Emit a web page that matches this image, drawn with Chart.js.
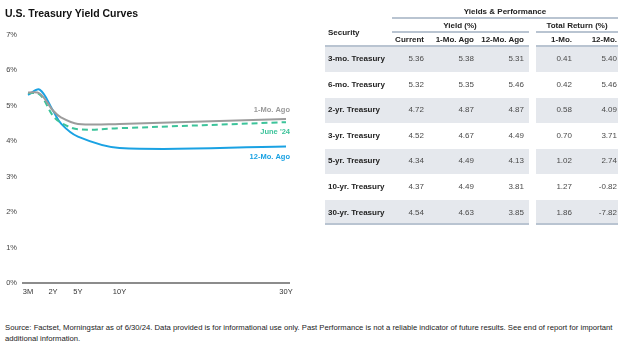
<!DOCTYPE html>
<html>
<head>
<meta charset="utf-8">
<script src="https://cdn.jsdelivr.net/npm/chart.js@4"></script>
<style>
  html, body { margin: 0; padding: 0; background: #fff; }
  body { width: 624px; height: 344px; position: relative; overflow: hidden;
         font-family: "Liberation Sans", Arial, sans-serif; color: #222; }
  #title { position: absolute; left: 5px; top: 7px; font-size: 10.5px; font-weight: bold; color: #111; white-space: nowrap; }
  #chartBox { position: absolute; left: 0; top: 0; width: 310px; height: 300px; }
  .t { position: absolute; white-space: nowrap; font-size: 8px; line-height: 10px; height: 10px; }
  .b { font-weight: bold; color: #222; }
  .v { color: #4a4a4a; }
  .band { position: absolute; background: #e5e8ed; }
  .rule { position: absolute; background: #b9c4d1; }
  #footer { position: absolute; left: 5px; top: 322px; font-size: 7.7px; line-height: 11px; color: #222; white-space: nowrap; }
</style>
</head>
<body>
<div id="chartBox"><canvas id="c" width="310" height="300"></canvas></div>
<div id="title">U.S. Treasury Yield Curves</div>
<div id="table"></div>
<div id="footer">Source: Factset, Morningstar as of 6/30/24. Data provided is for informational use only. Past Performance is not a reliable indicator of future results. See end of report for important<br>additional information.</div>
<script>
// ---------- DATA ----------
const securities = ['3-mo. Treasury', '6-mo. Treasury', '2-yr. Treasury', '3-yr. Treasury', '5-yr. Treasury', '10-yr. Treasury', '30-yr. Treasury'];
const maturitiesYears = [0.25, 0.5, 2, 3, 5, 10, 30];
const yieldCurrent = [5.36, 5.32, 4.72, 4.52, 4.34, 4.37, 4.54];
const yield1MoAgo  = [5.38, 5.35, 4.87, 4.67, 4.49, 4.49, 4.63];
const yield12MoAgo = [5.31, 5.46, 4.87, 4.49, 4.13, 3.81, 3.85];
const return1Mo  = [0.41, 0.42, 0.58, 0.70, 1.02, 1.27, 1.86];
const return12Mo = [5.40, 5.46, 4.09, 3.71, 2.74, -0.82, -7.82];
const xTickYears  = [0.25, 2, 5, 10, 30];
const xTickLabels = ['3M', '2Y', '5Y', '10Y', '30Y'];
const yTicks = [0, 1, 2, 3, 4, 5, 6, 7];
const seriesNames = ['1-Mo. Ago', "June '24", '12-Mo. Ago'];

// ---------- TABLE ----------
const tbl = document.getElementById('table');
function addText(txt, x, y, align, cls) {
  const d = document.createElement('div');
  d.className = 't ' + cls;
  d.textContent = txt;
  d.style.top = (y - 5) + 'px';
  if (align === 'left') d.style.left = x + 'px';
  else if (align === 'right') d.style.right = (624 - x) + 'px';
  else { d.style.left = x + 'px'; d.style.transform = 'translateX(-50%)'; }
  tbl.appendChild(d);
}
function addBox(cls, x, y, w, h) {
  const d = document.createElement('div');
  d.className = cls;
  d.style.left = x + 'px'; d.style.top = y + 'px';
  d.style.width = w + 'px'; d.style.height = h + 'px';
  tbl.appendChild(d);
}
const rowY0 = 59, rowH = 25.6;
const colRight = [424, 474, 524, 572, 617];
const leftBand = [325, 529], rightBand = [536, 618];
securities.forEach((s, i) => {
  if (i % 2 === 0) {
    const yc = rowY0 + rowH * i;
    addBox('band', leftBand[0], yc - 12.5, leftBand[1] - leftBand[0], 25);
    addBox('band', rightBand[0], yc - 12.5, rightBand[1] - rightBand[0], 25);
  }
});
addBox('rule', 392, 17, 226, 1.5);
addBox('rule', 392, 31, 137, 1.5);
addBox('rule', 536, 31, 82, 1.5);
addBox('rule', leftBand[0], 45, leftBand[1] - leftBand[0], 2);
addBox('rule', rightBand[0], 45, rightBand[1] - rightBand[0], 2);
addBox('rule', leftBand[0], 222.5, leftBand[1] - leftBand[0], 2);
addBox('rule', rightBand[0], 222.5, rightBand[1] - rightBand[0], 2);

addText('Yields & Performance', 505, 12, 'center', 'b');
addText('Yield (%)', 460, 25.5, 'center', 'b');
addText('Total Return (%)', 577, 25.5, 'center', 'b');
addText('Security', 328, 33, 'left', 'b');
['Current', '1-Mo. Ago', '12-Mo. Ago', '1-Mo.', '12-Mo.'].forEach((h, j) => addText(h, colRight[j], 39.5, 'right', 'b'));
const cols = [yieldCurrent, yield1MoAgo, yield12MoAgo, return1Mo, return12Mo];
securities.forEach((s, i) => {
  const y = rowY0 + rowH * i;
  addText(s, 328, y, 'left', 'b');
  cols.forEach((arr, j) => addText(arr[i].toFixed(2), colRight[j], y, 'right', 'v'));
});

// ---------- CHART ----------
// maturity axis: short end spread out, linear in years from 2Y onward
const knots = [[0.25, -1.0], [0.5, 0.4], [2, 2]];
function toUnit(v) {
  if (v >= knots[knots.length - 1][0]) return v;
  if (v <= knots[0][0]) return knots[0][1] + (v - knots[0][0]);
  for (let i = 0; i < knots.length - 1; i++) {
    const [a, ua] = knots[i], [b, ub] = knots[i + 1];
    if (v >= a && v <= b) return ua + (v - a) / (b - a) * (ub - ua);
  }
  return v;
}
function fromUnit(u) {
  if (u >= knots[knots.length - 1][1]) return u;
  if (u <= knots[0][1]) return knots[0][0] + (u - knots[0][1]);
  for (let i = 0; i < knots.length - 1; i++) {
    const [a, ua] = knots[i], [b, ub] = knots[i + 1];
    if (u >= ua && u <= ub) return a + (u - ua) / (ub - ua) * (b - a);
  }
  return u;
}
class MaturityScale extends Chart.LinearScale {
  getPixelForValue(v) { return super.getPixelForValue(v == null ? v : toUnit(v)); }
  getValueForPixel(p) { return fromUnit(super.getValueForPixel(p)); }
}
MaturityScale.id = 'maturity';
MaturityScale.defaults = Chart.LinearScale.defaults;
Chart.register(MaturityScale);

const colors = { gray: '#9c9c9c', green: '#3cc39a', blue: '#1aa2e3' };
const pts = arr => maturitiesYears.map((m, i) => ({ x: m, y: arr[i] }));

const endLabels = {
  id: 'endLabels',
  afterDatasetsDraw(chart, args, opts) {
    const ctx = chart.ctx;
    ctx.save();
    ctx.font = 'bold 7.5px "Liberation Sans", Arial, sans-serif';
    ctx.textAlign = 'right';
    ctx.textBaseline = 'middle';
    chart.data.datasets.forEach((ds, i) => {
      const meta = chart.getDatasetMeta(i);
      const last = meta.data[meta.data.length - 1];
      ctx.fillStyle = ds.labelColor;
      ctx.fillText(ds.label, last.x + opts.dx, last.y + opts.dy[i]);
    });
    ctx.restore();
  }
};

new Chart(document.getElementById('c'), {
  type: 'line',
  data: {
    datasets: [
      { label: seriesNames[0], data: pts(yield1MoAgo), borderColor: colors.gray, labelColor: '#9a9a9a', borderWidth: 2 },
      { label: seriesNames[1], data: pts(yieldCurrent), borderColor: colors.green, labelColor: '#3cc39a', borderWidth: 2, borderDash: [6, 4] },
      { label: seriesNames[2], data: pts(yield12MoAgo), borderColor: colors.blue, labelColor: '#1aa2e3', borderWidth: 2 }
    ]
  },
  options: {
    responsive: false,
    animation: false,
    events: [],
    layout: { padding: { left: 0, top: 35, right: 21, bottom: 0 } },
    elements: { point: { radius: 0 }, line: { tension: 0.35, fill: false } },
    plugins: {
      legend: { display: false },
      tooltip: { enabled: false },
      endLabels: { dx: 4, dy: [-9, 10, 10] }
    },
    scales: {
      x: {
        type: 'maturity',
        min: -1.6, max: 30.36,
        bounds: 'data',
        grid: { display: false, drawTicks: false },
        border: { display: true, color: '#8c8c8c', width: 2 },
        afterBuildTicks: s => { s.ticks = xTickYears.map(v => ({ value: v })); },
        afterFit: s => { s.height = 17; },
        ticks: {
          autoSkip: false, maxRotation: 0, padding: 4,
          color: '#333',
          font: { family: '"Liberation Sans", Arial, sans-serif', size: 7.5 },
          callback: v => { const i = xTickYears.indexOf(v); return i >= 0 ? xTickLabels[i] : ''; }
        }
      },
      y: {
        min: 0, max: 7,
        grid: { display: false, drawTicks: false },
        border: { display: false },
        afterBuildTicks: s => { s.ticks = yTicks.map(v => ({ value: v })); },
        afterFit: s => { s.width = 23; },
        ticks: {
          padding: 6,
          color: '#444',
          font: { family: '"Liberation Sans", Arial, sans-serif', size: 7.5 },
          callback: v => v + '%'
        }
      }
    }
  },
  plugins: [endLabels]
});
</script>
</body>
</html>
